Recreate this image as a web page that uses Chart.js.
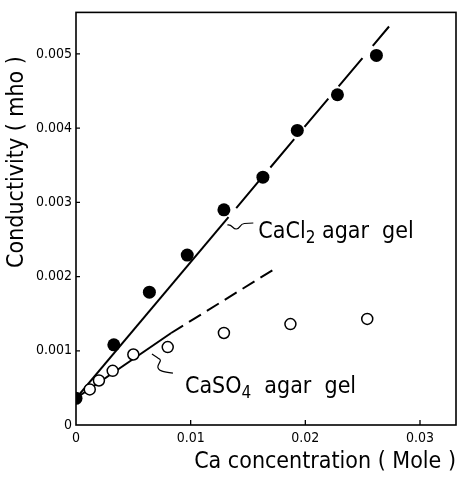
<!DOCTYPE html>
<html>
<head>
<meta charset="utf-8">
<script src="https://cdn.jsdelivr.net/npm/chart.js@4.4.1/dist/chart.umd.min.js"></script>
<style>
  html, body { margin: 0; padding: 0; background: #fff; }
</style>
</head>
<body>
<canvas id="chart" width="472" height="484"></canvas>
<script>
// Ca concentration (Mole) vs conductivity (mho)
const caCl2Conc = [0, 0.0033, 0.0064, 0.0097, 0.0129, 0.0163, 0.0193, 0.0228, 0.0262];
const caCl2Cond = [0.00036, 0.00108, 0.00179, 0.00229, 0.0029, 0.00334, 0.00397, 0.00445, 0.00498];
const caSO4Conc = [0.0012, 0.0020, 0.0032, 0.0050, 0.0080, 0.0129, 0.0187, 0.0254];
const caSO4Cond = [0.00048, 0.0006, 0.00073, 0.00095, 0.00105, 0.00124, 0.00136, 0.00143];

// hand drawn lines: solid first part, dashed after
const caCl2LineX = [0, 0.0133, 0.0273];
const caCl2LineY = [0.00036, 0.0028, 0.00537];
const caSO4LineX = [0, 0.0083, 0.0176];
const caSO4LineY = [0.00036, 0.00124, 0.00213];

const xTicks = [0, 0.01, 0.02, 0.03];
const xTickLabels = ['0', '0.01', '0.02', '0.03'];
const yTicks = [0, 0.001, 0.002, 0.003, 0.004, 0.005];
const yTickLabels = ['0', '0.001', '0.002', '0.003', '0.004', '0.005'];

const FONT = "'DejaVu Sans Condensed', 'Liberation Sans Narrow', 'DejaVu Sans', sans-serif";

const toPts = (xs, ys) => xs.map((v, i) => ({ x: v, y: ys[i] }));

// frame, inward ticks, y title and the two labels with leaders
const decor = {
    id: 'decor',
    beforeDatasetsDraw(chart) {
        const { ctx, chartArea: a, scales: { x, y } } = chart;
        ctx.save();
        ctx.strokeStyle = '#000';
        ctx.lineWidth = 1.6;
        ctx.strokeRect(a.left, a.top, a.right - a.left, a.bottom - a.top);
        ctx.lineWidth = 1.3;
        ctx.beginPath();
        xTicks.slice(1).forEach(v => {
            const px = x.getPixelForValue(v);
            ctx.moveTo(px, a.bottom);
            ctx.lineTo(px, a.bottom - 5);
        });
        yTicks.slice(1).forEach(v => {
            const py = y.getPixelForValue(v);
            ctx.moveTo(a.left, py);
            ctx.lineTo(a.left + 4, py);
        });
        ctx.stroke();
        ctx.restore();
    },
    afterDraw(chart) {
        const { ctx, scales: { x, y } } = chart;
        ctx.save();
        ctx.fillStyle = '#000';
        ctx.strokeStyle = '#000';

        // y axis title
        ctx.save();
        ctx.translate(17, 162);
        ctx.rotate(-Math.PI / 2);
        ctx.font = '23px ' + FONT;
        ctx.textAlign = 'center';
        ctx.textBaseline = 'middle';
        ctx.fillText('Conductivity ( mho )', 0, 0);
        ctx.restore();

        const label = (lx, ly, head, sub, tail) => {
            ctx.textAlign = 'left';
            ctx.textBaseline = 'alphabetic';
            ctx.font = '23px ' + FONT;
            ctx.fillText(head, lx, ly);
            let cx = lx + ctx.measureText(head).width;
            ctx.font = '17px ' + FONT;
            ctx.fillText(sub, cx, ly + 5);
            cx += ctx.measureText(sub).width;
            ctx.font = '23px ' + FONT;
            ctx.fillText(tail, cx, ly);
        };

        ctx.lineWidth = 1.2;

        // CaCl2
        let lx = x.getPixelForValue(0.0159), ly = y.getPixelForValue(0.00252);
        label(lx, ly, 'CaCl', '2', ' agar  gel');
        ctx.beginPath();
        ctx.moveTo(lx - 5, ly - 15);
        ctx.lineTo(lx - 14, ly - 14.5);
        ctx.bezierCurveTo(lx - 19, ly - 14, lx - 18, ly - 9, lx - 22, ly - 9);
        ctx.bezierCurveTo(lx - 26, ly - 9, lx - 26, ly - 14, lx - 31, ly - 13);
        ctx.stroke();

        // CaSO4
        lx = x.getPixelForValue(0.0095); ly = y.getPixelForValue(0.00043);
        label(lx, ly, 'CaSO', '4', '  agar  gel');
        ctx.beginPath();
        ctx.moveTo(lx - 12, ly - 20);
        ctx.bezierCurveTo(lx - 20, ly - 21, lx - 28, ly - 22, lx - 27, ly - 27);
        ctx.bezierCurveTo(lx - 26, ly - 31, lx - 22, ly - 33, lx - 27, ly - 35);
        ctx.lineTo(lx - 33, ly - 39);
        ctx.stroke();

        ctx.restore();
    }
};

const tickFont = { family: FONT, size: 14 };

new Chart(document.getElementById('chart'), {
    type: 'scatter',
    data: {
        datasets: [
            {
                label: 'CaCl2 agar gel',
                data: toPts(caCl2Conc, caCl2Cond),
                pointRadius: 6.5,
                pointBackgroundColor: '#000',
                pointBorderColor: '#000',
                pointBorderWidth: 0,
                order: 1
            },
            {
                label: 'CaSO4 agar gel',
                data: toPts(caSO4Conc, caSO4Cond),
                pointRadius: 5.5,
                pointBackgroundColor: '#fff',
                pointBorderColor: '#000',
                pointBorderWidth: 1.5,
                order: 1
            },
            {
                label: 'CaCl2 line',
                data: toPts(caCl2LineX, caCl2LineY),
                showLine: true,
                pointRadius: 0,
                borderColor: '#000',
                borderWidth: 2,
                segment: {
                    borderDash: c => c.p0DataIndex === 1 ? [37, 16] : undefined,
                    borderDashOffset: c => c.p0DataIndex === 1 ? 41 : 0
                },
                order: 2
            },
            {
                label: 'CaSO4 line',
                data: toPts(caSO4LineX, caSO4LineY),
                showLine: true,
                pointRadius: 0,
                borderColor: '#000',
                borderWidth: 2,
                segment: {
                    borderDash: c => c.p0DataIndex === 1 ? [14, 7] : undefined
                },
                order: 2
            }
        ]
    },
    options: {
        responsive: false,
        animation: false,
        layout: { padding: { top: 10, right: 16, left: 0, bottom: 0 } },
        plugins: {
            legend: { display: false },
            tooltip: { enabled: false }
        },
        scales: {
            x: {
                type: 'linear',
                min: 0,
                max: 0.03314,
                afterFit: s => { s.height = 59; },
                afterBuildTicks: s => { s.ticks = xTicks.map(v => ({ value: v })); },
                grid: { display: false, drawTicks: false },
                border: { display: false },
                ticks: {
                    padding: 5,
                    color: '#000',
                    font: tickFont,
                    maxRotation: 0,
                    autoSkip: false,
                    callback: (v, i) => xTickLabels[i]
                },
                title: {
                    display: true,
                    text: 'Ca concentration ( Mole )',
                    align: 'end',
                    color: '#000',
                    font: { family: FONT, size: 23 },
                    padding: { top: 0, bottom: 8 }
                }
            },
            y: {
                type: 'linear',
                min: 0,
                max: 0.00556,
                afterFit: s => { s.width = 76; },
                afterBuildTicks: s => { s.ticks = yTicks.map(v => ({ value: v })); },
                grid: { display: false, drawTicks: false },
                border: { display: false },
                ticks: {
                    padding: 4,
                    color: '#000',
                    font: tickFont,
                    autoSkip: false,
                    callback: (v, i) => yTickLabels[i]
                }
            }
        }
    },
    plugins: [decor]
});
</script>
</body>
</html>
